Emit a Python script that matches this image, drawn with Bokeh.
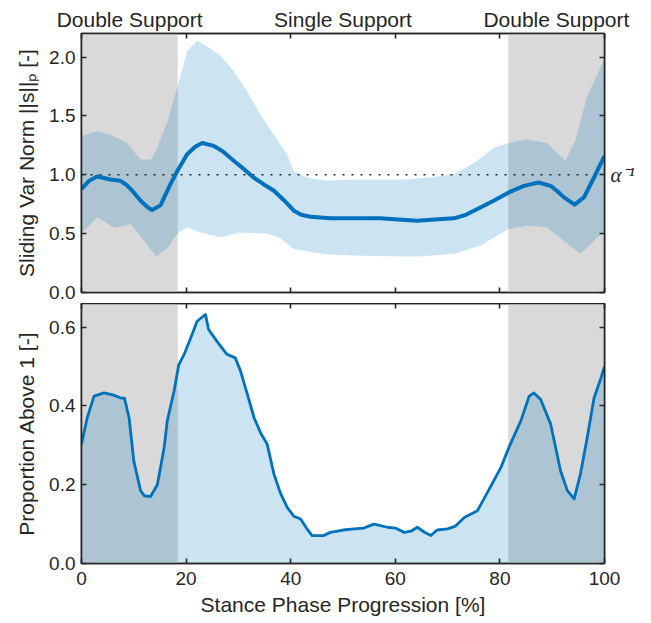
from bokeh.plotting import figure
from bokeh.layouts import column
from bokeh.models import LinearAxis, FixedTicker, NumeralTickFormatter, Range1d
from bokeh.embed import file_html
from bokeh.resources import INLINE

# ---------------- data ----------------
phase_labels = ["Double Support", "Single Support", "Double Support"]
phase_centers = [9.2, 50, 90.8]
phase_edges = [0, 18.4, 81.6, 100]
x_ticks = [0, 20, 40, 60, 80, 100]
top_y_ticks = [0.0, 0.5, 1.0, 1.5, 2.0]
bot_y_ticks = [0.0, 0.2, 0.4, 0.6]
alpha_level = 1.0

mean_x = [0, 1.5, 3, 5.5, 7.4, 8.7, 10, 11.3, 12.5, 13.5,
          15.1, 17.0, 18.3, 20.2, 21.8, 23.1, 25.3, 27, 29.1, 31,
          32.9, 34.8, 36.8, 38.8, 40.6, 42, 43.8, 47.6, 52.1, 57.2,
          60.5, 64.2, 67.5, 71.2, 73.5, 75.7, 78.8, 81.7, 84.6, 87.4,
          89.7, 91, 92.2, 94.3, 96.1, 98.0, 100]
mean_y = [0.88, 0.95, 0.985, 0.96, 0.95, 0.91, 0.85, 0.78, 0.73, 0.70,
          0.74, 0.92, 1.03, 1.175, 1.24, 1.27, 1.245, 1.2, 1.12, 1.05,
          0.977, 0.92, 0.864, 0.78, 0.695, 0.66, 0.644, 0.63, 0.63, 0.63,
          0.62, 0.61, 0.62, 0.63, 0.66, 0.71, 0.78, 0.85, 0.906, 0.934,
          0.906, 0.86, 0.81, 0.746, 0.81, 0.977, 1.16]

upper_x = [0, 3, 5.5, 8.7, 11.3, 13.3, 14.5, 16.5, 18.3, 20.2,
           22.1, 24.0, 26.6, 29.1, 31.7, 34.2, 36.8, 39.3, 40.6, 43.1,
           46.9, 52.1, 61.7, 67, 71.2, 75.7, 78.8, 81.7, 85.2, 89.0,
           92.5, 94.4, 96.6, 100]
upper_y = [1.33, 1.37, 1.34, 1.27, 1.13, 1.13, 1.23, 1.46, 1.74, 2.05,
           2.14, 2.09, 2.01, 1.88, 1.71, 1.51, 1.34, 1.175, 1.03, 0.977,
           0.95, 0.96, 0.96, 0.98, 1.005, 1.12, 1.23, 1.27, 1.30, 1.27,
           1.12, 1.29, 1.655, 1.99]

lower_x = [0, 3, 6.2, 9.4, 12, 14.3, 16.5, 18.3, 20.2, 22.7,
           26.6, 30.4, 35.5, 38.0, 40.6, 44.5, 47.6, 55.3, 64.8, 71.2,
           76.3, 79.5, 81.7, 85.2, 89.0, 92.2, 95.4, 98.0, 100]
lower_y = [0.50, 0.64, 0.55, 0.58, 0.44, 0.305, 0.38, 0.50, 0.555, 0.51,
           0.47, 0.51, 0.50, 0.46, 0.37, 0.34, 0.32, 0.31, 0.305, 0.33,
           0.40, 0.485, 0.54, 0.57, 0.555, 0.44, 0.33, 0.44, 0.52]

prop_x = [0, 1.1, 2.4, 4.3, 6, 7.5, 8.2, 9.1, 10.0, 11.3,
          12, 13.2, 14.5, 15.8, 16.4, 17.7, 18.6, 19.6, 20.9, 22.1,
          23.7, 24.3, 25.9, 27.8, 29.4, 30.4, 31.7, 33, 34.3, 35.5,
          36.8, 38, 39.3, 40.6, 41.9, 43, 44.1, 46.3, 47.6, 50,
          52.1, 54, 55.9, 58.5, 60, 61.7, 63, 64.2, 65.5, 66.8,
          68, 70, 71.5, 73.2, 75.7, 77.6, 80.2, 81.7, 84, 85.6,
          86.5, 87.8, 89.7, 91.6, 92.9, 94.2, 95.4, 96.7, 98.0, 99.3,
          100]
prop_y = [0.303, 0.37, 0.425, 0.433, 0.428, 0.42, 0.42, 0.37, 0.26, 0.185,
          0.172, 0.17, 0.20, 0.294, 0.362, 0.438, 0.505, 0.53, 0.573, 0.615,
          0.632, 0.594, 0.564, 0.531, 0.522, 0.489, 0.43, 0.37, 0.33, 0.303,
          0.227, 0.18, 0.143, 0.12, 0.113, 0.09, 0.071, 0.071, 0.079, 0.085,
          0.088, 0.09, 0.1, 0.092, 0.09, 0.079, 0.082, 0.092, 0.08, 0.071,
          0.085, 0.088, 0.095, 0.117, 0.134, 0.18, 0.244, 0.294, 0.362, 0.425,
          0.433, 0.416, 0.354, 0.235, 0.185, 0.164, 0.227, 0.32, 0.42, 0.47,
          0.50]

# ---------------- style ----------------
BLUE = "#0072BD"
GRAY = "#d9d9d9"
INK = "#262626"
FONT = "Liberation Sans"
TICK_FS = "19px"
LABEL_FS = "21px"

dbl_left = [phase_edges[0], phase_edges[2]]
dbl_right = [phase_edges[1], phase_edges[3]]


def style_axis(ax):
    ax.axis_line_color = INK
    ax.axis_line_width = 1.6
    ax.major_tick_line_color = INK
    ax.major_tick_line_width = 1.6
    ax.minor_tick_line_color = INK
    ax.minor_tick_line_width = 1.6
    ax.major_tick_in = 5
    ax.major_tick_out = 0
    ax.minor_tick_in = 5
    ax.minor_tick_out = 0
    ax.major_label_text_font = FONT
    ax.major_label_text_font_size = TICK_FS
    ax.major_label_text_color = INK
    ax.axis_label_text_font = FONT
    ax.axis_label_text_font_size = LABEL_FS
    ax.axis_label_text_font_style = "normal"
    ax.axis_label_text_color = INK


def base_fig(y0, y1, fh, bt, bb):
    p = figure(frame_width=523, frame_height=fh,
               x_range=Range1d(0, 100), y_range=Range1d(y0, y1),
               output_backend="svg", toolbar_location=None,
               min_border_left=81, min_border_right=47,
               min_border_top=bt, min_border_bottom=bb,
               x_axis_location=None, y_axis_location=None)
    p.grid.visible = False
    p.outline_line_color = INK
    p.outline_line_width = 1.6
    p.background_fill_color = "white"
    p.border_fill_color = "white"
    p.quad(left=dbl_left, right=dbl_right, bottom=y0, top=y1,
           fill_color=GRAY, line_color=None)
    return p


# ---------------- top panel ----------------
top = base_fig(0, 2.2, 259, 33, 11)
band_xs = upper_x + lower_x[::-1]
band_ys = upper_y + lower_y[::-1]
top.patch(band_xs, band_ys, fill_color=BLUE, fill_alpha=0.2, line_color=None)
top.line(x=[0, 100], y=[alpha_level, alpha_level], line_color=INK,
         line_width=1.6, line_dash="2 7")
top.line(x=mean_x, y=mean_y, line_color=BLUE, line_width=4, line_join="round")

yl = LinearAxis(ticker=FixedTicker(ticks=top_y_ticks),
                formatter=NumeralTickFormatter(format="0.0"),
                axis_label="Sliding Var Norm ||s||ₚ [-]")
style_axis(yl)
yl.major_label_standoff = 6
yl.axis_label_standoff = 8
top.add_layout(yl, "left")

xb = LinearAxis(ticker=FixedTicker(ticks=[], minor_ticks=x_ticks))
style_axis(xb)
xb.major_label_standoff = 0
top.add_layout(xb, "below")

xa = LinearAxis(ticker=FixedTicker(ticks=phase_centers, minor_ticks=x_ticks),
                major_label_overrides={c: t for c, t in zip(phase_centers, phase_labels)})
style_axis(xa)
xa.major_tick_in = 0
xa.major_label_text_font_size = LABEL_FS
xa.major_label_standoff = 3
top.add_layout(xa, "above")

yr = LinearAxis(ticker=FixedTicker(ticks=[alpha_level],
                                   minor_ticks=[t for t in top_y_ticks if t != alpha_level]),
                major_label_overrides={alpha_level: "α⁻¹"})
style_axis(yr)
yr.major_label_text_font = "Liberation Serif"
yr.major_label_text_font_style = "italic"
yr.major_label_text_font_size = "21px"
yr.major_label_standoff = 6
top.add_layout(yr, "right")

# ---------------- bottom panel ----------------
bot = base_fig(0, 0.66, 260, 0, 60)
bot.varea(x=prop_x, y1=0, y2=prop_y, fill_color=BLUE, fill_alpha=0.2)
bot.line(x=prop_x, y=prop_y, line_color=BLUE, line_width=2.8, line_join="round")

yl2 = LinearAxis(ticker=FixedTicker(ticks=bot_y_ticks),
                 formatter=NumeralTickFormatter(format="0.0"),
                 axis_label="Proportion Above 1 [-]")
style_axis(yl2)
yl2.major_label_standoff = 6
yl2.axis_label_standoff = 8
bot.add_layout(yl2, "left")

xb2 = LinearAxis(ticker=FixedTicker(ticks=x_ticks),
                 formatter=NumeralTickFormatter(format="0"),
                 axis_label="Stance Phase Progression [%]")
style_axis(xb2)
xb2.major_label_standoff = 8
xb2.axis_label_standoff = 5
bot.add_layout(xb2, "below")

xa2 = LinearAxis(ticker=FixedTicker(ticks=[], minor_ticks=x_ticks))
style_axis(xa2)
xa2.major_label_standoff = 0
bot.add_layout(xa2, "above")

yr2 = LinearAxis(ticker=FixedTicker(ticks=[], minor_ticks=bot_y_ticks))
style_axis(yr2)
yr2.major_label_standoff = 0
bot.add_layout(yr2, "right")

layout = column(top, bot, spacing=0)
open("out.html", "w").write(file_html(layout, INLINE))
